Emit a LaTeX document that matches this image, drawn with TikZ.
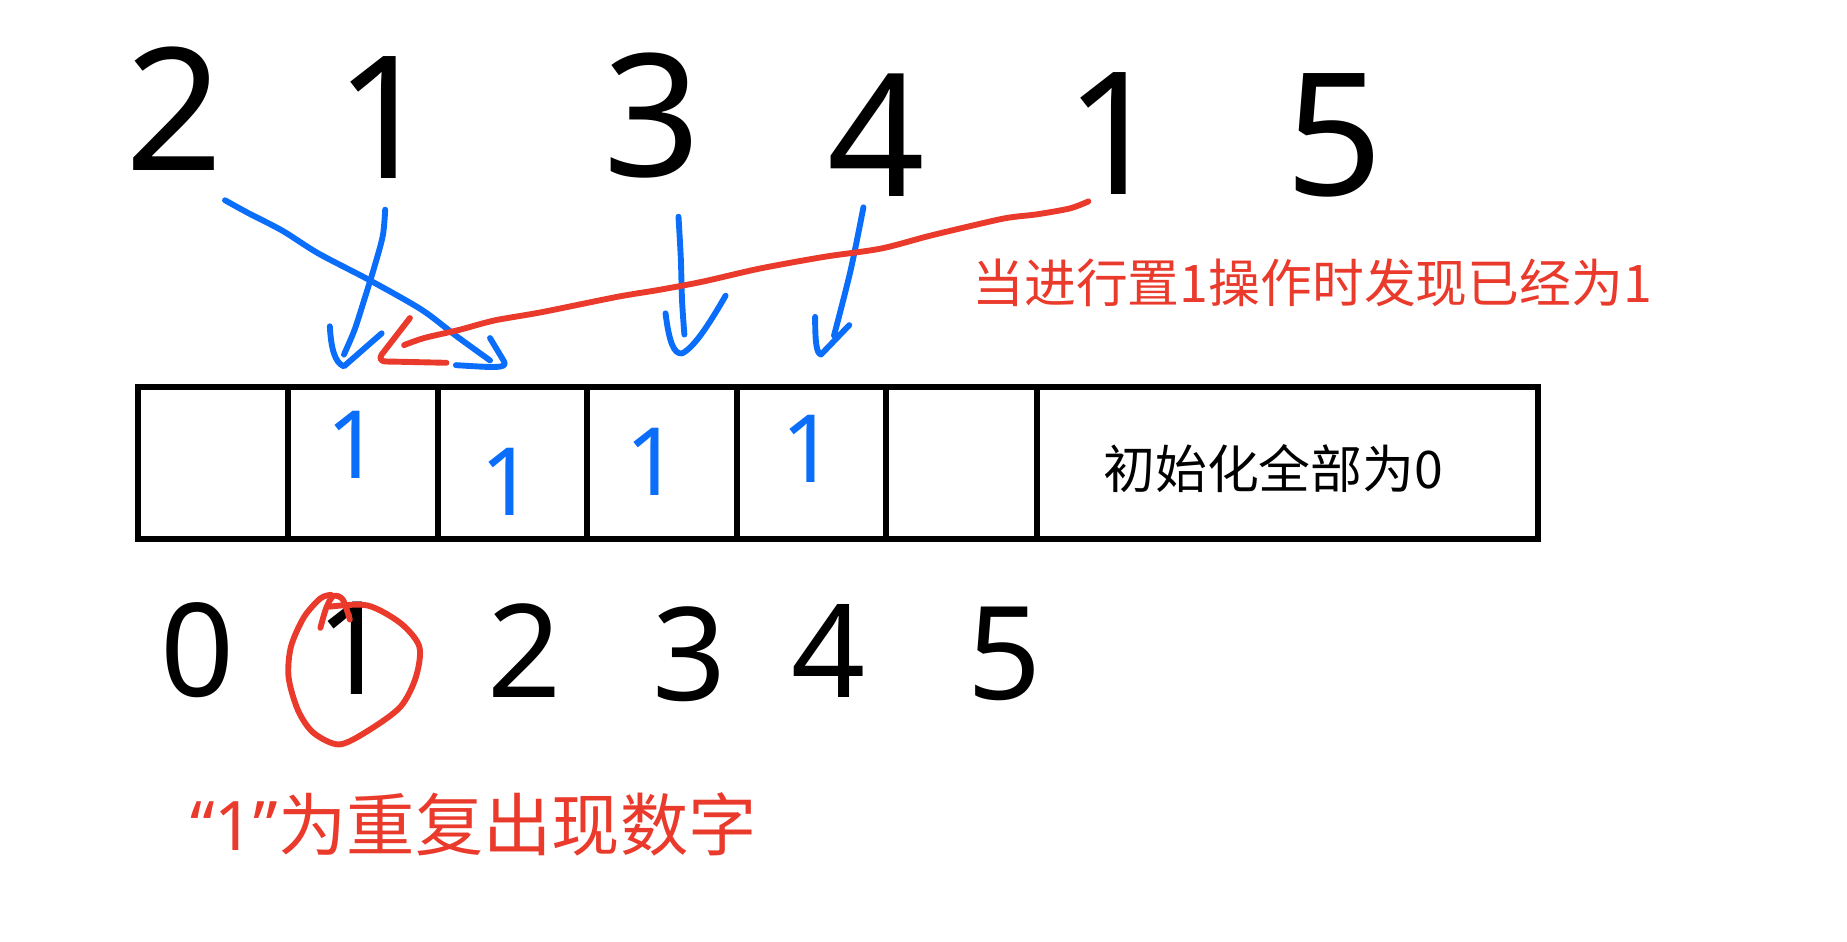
\documentclass[tikz,border=0pt]{standalone}
\usepackage{fontspec}
\setmainfont{Noto Sans}
\newfontfamily\cjk{Noto Sans CJK SC}
\newfontfamily\latinf{Noto Sans}
\definecolor{inkblue}{RGB}{10,110,250}
\definecolor{inkred}{RGB}{234,58,44}
\begin{document}
\begin{tikzpicture}[x=1pt,y=-1pt,
  cell/.style={draw,line width=5pt,minimum width=127pt,minimum height=129pt,inner sep=0pt,anchor=north west},
  bigdigit/.style={font=\fontsize{145}{145}\selectfont,inner sep=0pt},
  idxdigit/.style={font=\fontsize{110}{110}\selectfont,inner sep=0pt},
  cellone/.style={text=inkblue,font=\fontsize{80}{80}\selectfont,inner sep=0pt},
  bluepen/.style={draw=inkblue,line width=5pt,line cap=round,line join=round},
  redpen/.style={draw=inkred,line width=5pt,line cap=round,line join=round},
  note/.style={text=inkred,inner sep=0pt}
]
\useasboundingbox (0,0) rectangle (1568,799);

% array cells
\node[cell] (c0) at (115,326) {};
\node[cell] (c1) at (242,326) {};
\node[cell] (c2) at (369,326) {};
\node[cell] (c3) at (496,326) {};
\node[cell] (c4) at (623,326) {};
\node[cell,minimum width=128pt] (c5) at (750,326) {};
\node[cell,minimum width=425pt] (c6) at (878,326) {};
\node[font=\cjk\fontsize{44}{44}\selectfont,inner sep=0pt] (init) at (1081,398) {初始化全部为0};

% values written in cells
\node[cellone] (v1) at (300,378) {1};
\node[cellone] (v2) at (431,409) {1};
\node[cellone] (v3) at (554,392) {1};
\node[cellone] (v4) at (686,381) {1};

% input sequence
\node[bigdigit] (t1) at (148,92) {2};
\node[bigdigit] (t2) at (326,100) {1};
\node[bigdigit] (t3) at (554,98) {3};
\node[bigdigit] (t4) at (744,115) {4};
\node[bigdigit] (t5) at (946,113) {1};
\node[bigdigit] (t6) at (1133,115) {5};

% indices
\node[idxdigit] (b0) at (168,552) {0};
\node[idxdigit] (b1) at (300,550) {1};
\node[idxdigit] (b2) at (445,552) {2};
\node[idxdigit] (b3) at (585,555) {3};
\node[idxdigit] (b4) at (703,553) {4};
\node[idxdigit] (b5) at (853,555) {5};

% blue arrows
\coordinate (aS) at (191,170);
\coordinate (aE) at (416,306);
\coordinate (aT) at (428,307);
\draw[bluepen] plot[smooth] coordinates {(aS) (211,181) (240,196) (270,215) (314,238) (358,263) (387,285) (aE)};
\draw[bluepen] (416,287) -- (aT) .. controls (431,313) and (420,312) .. (387,310);

\coordinate (bS) at (327,178);
\coordinate (bE) at (292,301);
\coordinate (bT) at (292,311);
\draw[bluepen] plot[smooth] coordinates {(bS) (325,200) (318,226) (310,252) (301,280) (bE)};
\draw[bluepen] (280,277) .. controls (281,295) and (284,308) .. (bT) -- (324,283);

\coordinate (cS) at (576,184);
\coordinate (cE) at (581,284);
\coordinate (cT) at (579,300);
\draw[bluepen] plot[smooth] coordinates {(cS) (578,220) (579,255) (cE)};
\draw[bluepen] (565,266) .. controls (568,290) and (572,301) .. (cT) .. controls (590,295) and (605,270) .. (616,251);

\coordinate (dS) at (733,176);
\coordinate (dE) at (708,285);
\coordinate (dT) at (697,301);
\draw[bluepen] plot[smooth] coordinates {(dS) (722,230) (dE)};
\draw[bluepen] (692,269) .. controls (692,290) and (693,300) .. (dT) -- (721,276);

% red arrow
\coordinate (rS) at (924,171);
\coordinate (rE) at (343,293);
\coordinate (rT) at (324,301);
\draw[redpen] plot[smooth] coordinates {(rS) (908,177) (880,182) (862,184) (845,187) (790,200) (748,211) (700,218) (645,228) (597,239) (560,246) (524,252) (460,265) (420,272) (390,280) (360,287) (rE)};
\draw[redpen] (348,270) -- (rT) .. controls (321,307) and (325,307) .. (334,307) -- (379,308);

% red circle around index 1
\draw[redpen] plot[smooth] coordinates {(272,533) (277,516) (283,506) (291,509) (297,526)};
\draw[redpen] plot[smooth] coordinates {(280,515) (312,514) (340,529) (356,549) (353,575) (340,600) (313,620) (288,632) (266,622) (253,603) (245,575) (247,549) (258,524) (272,508) (281,505)};

% notes
\node[note,font=\cjk\fontsize{44}{44}\selectfont] (op) at (1114,240) {当进行置1操作时发现已经为1};
\node[note,font=\cjk\fontsize{58}{58}\selectfont] (dup) at (402,700) {{\latinf “1”}为重复出现数字};
\end{tikzpicture}
\end{document}
